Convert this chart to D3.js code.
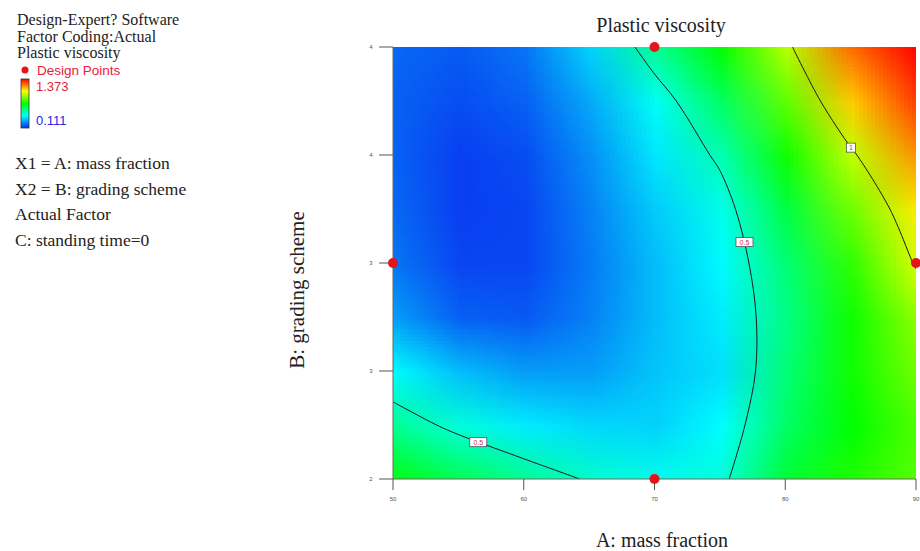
<!DOCTYPE html>
<html><head><meta charset="utf-8">
<script src="https://cdn.jsdelivr.net/npm/d3@7"></script>
<style>body{margin:0;background:#fff}svg{display:block}</style>
</head><body><svg id="chart" width="920" height="551"></svg>
<script>
// ---- data ----
const massFraction = [50, 55, 60, 65, 70, 75, 80, 85, 90];          // A (columns)
const gradingScheme = [4, 3.75, 3.5, 3.25, 3, 2.75, 2.5, 2.25, 2];  // B (rows, top to bottom)
const viscosityRows = [
  [0.20, 0.18, 0.22, 0.36, 0.56, 0.74, 0.97, 1.24, 1.373],
  [0.19, 0.16, 0.19, 0.30, 0.44, 0.62, 0.86, 1.12, 1.30],
  [0.19, 0.14, 0.16, 0.26, 0.39, 0.52, 0.76, 0.98, 1.19],
  [0.20, 0.14, 0.15, 0.24, 0.35, 0.45, 0.66, 0.88, 1.08],
  [0.22, 0.15, 0.15, 0.23, 0.33, 0.42, 0.60, 0.80, 1.01],
  [0.28, 0.19, 0.18, 0.24, 0.33, 0.40, 0.58, 0.76, 0.92],
  [0.42, 0.33, 0.28, 0.28, 0.34, 0.38, 0.60, 0.76, 0.88],
  [0.56, 0.47, 0.40, 0.37, 0.36, 0.425, 0.62, 0.74, 0.84],
  [0.72, 0.64, 0.56, 0.49, 0.45, 0.47, 0.68, 0.78, 0.85]
];
const xTickValues = [50, 60, 70, 80, 90];
const yTickValues = [4, 3.5, 3, 2.5, 2];
const designPointsA = [70, 50, 90, 70];
const designPointsB = [4, 3, 3, 2];
const contourLevels = [0.5, 1];
const contourLabelText = ["0.5", "0.5", "1"];
const contourLabelLevel = [0.5, 0.5, 1];
const contourLabelA = [56.5, 77.1, 85.6];
const contourLabelB = [2.17, 3.1, 3.56];
const responseMin = 0.111, responseMax = 1.373;
const legendHeader = ["Design-Expert? Software", "Factor Coding:Actual", "Plastic viscosity"];
const factorLines = ["X1 = A: mass fraction", "X2 = B: grading scheme", "Actual Factor", "C: standing time=0"];
const chartTitle = "Plastic viscosity";
const xTitle = "A: mass fraction";
const yTitle = "B: grading scheme";

// ---- layout ----
const svg = d3.select("#chart");
svg.append("rect").attr("width", 920).attr("height", 551).attr("fill", "#fff");
const plot = {left: 393, right: 916, top: 47, bottom: 479};
const x = d3.scaleLinear().domain([50, 90]).range([plot.left, plot.right]);
const y = d3.scaleLinear().domain([2, 4]).range([plot.bottom, plot.top]);
const nx = massFraction.length, ny = gradingScheme.length;
const colA = d3.scaleLinear().domain([0.5, nx - 0.5]).range([massFraction[0], massFraction[nx - 1]]);
const rowB = d3.scaleLinear().domain([0.5, ny - 0.5]).range([gradingScheme[0], gradingScheme[ny - 1]]);
const stops = d3.range(5).map(i => responseMin + i * (responseMax - responseMin) / 4);
const color = d3.scaleLinear().domain(stops)
  .range(["#0a2cf0", "#00ffff", "#00ff00", "#ffff00", "#ff0000"]).clamp(true);

const serif = "'Liberation Serif','Times New Roman',serif";
const sans = "'Liberation Sans',Arial,sans-serif";

// clip
const defs = svg.append("defs");
defs.append("clipPath").attr("id", "plotClip").append("rect")
  .attr("x", plot.left).attr("y", plot.top)
  .attr("width", plot.right - plot.left).attr("height", plot.bottom - plot.top);

// ---- colour field: small image of the grid, smoothly scaled by the browser ----
const cnv = document.createElement("canvas");
cnv.width = nx; cnv.height = ny;
const ctx = cnv.getContext("2d");
viscosityRows.forEach((row, r) => row.forEach((v, c) => {
  ctx.fillStyle = color(v); ctx.fillRect(c, r, 1, 1);
}));
const x0 = x(colA(0)), x1 = x(colA(nx)), y0 = y(rowB(0)), y1 = y(rowB(ny));
svg.append("g").attr("clip-path", "url(#plotClip)")
  .append("image")
  .attr("href", cnv.toDataURL())
  .attr("x", x0).attr("y", y0)
  .attr("width", x1 - x0).attr("height", y1 - y0)
  .attr("preserveAspectRatio", "none")
  .style("image-rendering", "auto");

// ---- contour lines ----
const contours = d3.contours().size([nx, ny]).thresholds(contourLevels)(viscosityRows.flat());
const lineGen = d3.line().x(p => x(colA(p[0]))).y(p => y(rowB(p[1]))).curve(d3.curveCatmullRom.alpha(0.5));
const contourG = svg.append("g").attr("clip-path", "url(#plotClip)");
const isBoundary = p => p[0] === 0 || p[0] === nx || p[1] === 0 || p[1] === ny;
contours.forEach(ct => {
  ct.coordinates.forEach(poly => poly.forEach(ring => {
    let pts = ring.slice(0, ring.length - 1);
    const bi = pts.findIndex(isBoundary);
    let runs = [];
    if (bi < 0) {
      runs.push(pts.concat([pts[0]]));
    } else {
      pts = pts.slice(bi).concat(pts.slice(0, bi));
      let cur = [];
      pts.forEach(p => {
        if (isBoundary(p)) { if (cur.length > 1) runs.push(cur); cur = []; }
        else cur.push(p);
      });
      if (cur.length > 1) runs.push(cur);
    }
    runs.forEach(run => {
      contourG.append("path").attr("class", "lvl" + String(ct.value).replace(".", "_"))
        .attr("d", lineGen(run))
        .attr("fill", "none").attr("stroke", "#1a1a1a").attr("stroke-width", 1);
    });
  }));
});

// ---- axes ----
const axG = svg.append("g");
axG.append("line").attr("x1", plot.left).attr("x2", plot.left).attr("y1", plot.top).attr("y2", plot.bottom)
  .attr("stroke", "#6b6b5a").attr("stroke-width", 1);
axG.append("line").attr("x1", plot.left).attr("x2", plot.right).attr("y1", plot.bottom).attr("y2", plot.bottom)
  .attr("stroke", "#6b6b5a").attr("stroke-width", 1);
const fmt = d3.format(".0f");
xTickValues.forEach(v => {
  axG.append("line").attr("x1", x(v)).attr("x2", x(v)).attr("y1", plot.bottom).attr("y2", plot.bottom + 11)
    .attr("stroke", "#555").attr("stroke-width", 1);
  axG.append("text").attr("x", x(v)).attr("y", plot.bottom + 22).attr("text-anchor", "middle")
    .attr("font-family", sans).attr("font-size", 6).attr("fill", "#555").text(fmt(v));
});
yTickValues.forEach(v => {
  axG.append("line").attr("x1", plot.left - 14).attr("x2", plot.left).attr("y1", y(v)).attr("y2", y(v))
    .attr("stroke", "#555").attr("stroke-width", 1);
  axG.append("text").attr("x", plot.left - 22).attr("y", y(v) + 2).attr("text-anchor", "middle")
    .attr("font-family", sans).attr("font-size", 6).attr("fill", "#555").text(fmt(v));
});

// ---- contour labels ----
contourLabelText.forEach((t, i) => {
  const tx = x(contourLabelA[i]), ty = y(contourLabelB[i]);
  let best = [tx, ty], bd = Infinity;
  contourG.selectAll(".lvl" + String(contourLabelLevel[i]).replace(".", "_")).each(function () {
    const L = this.getTotalLength();
    for (let s = 0; s <= L; s += 0.5) {
      const p = this.getPointAtLength(s);
      const d = (p.x - tx) ** 2 + (p.y - ty) ** 2;
      if (d < bd) { bd = d; best = [p.x, p.y]; }
    }
  });
  const w = t.length > 1 ? 17 : 9;
  const g = svg.append("g");
  g.append("rect").attr("x", best[0] - w / 2).attr("y", best[1] - 4.5).attr("width", w).attr("height", 9)
    .attr("fill", "#fff").attr("stroke", "#555").attr("stroke-width", 0.8);
  g.append("text").attr("x", best[0]).attr("y", best[1] + 2.5).attr("text-anchor", "middle")
    .attr("font-family", sans).attr("font-size", 7).attr("fill", "#c83060").text(t);
});

// ---- design points ----
designPointsA.forEach((a, i) => {
  svg.append("circle").attr("cx", x(a)).attr("cy", y(designPointsB[i])).attr("r", 5)
    .attr("fill", "#e4141c");
});

// ---- titles ----
svg.append("text").attr("x", 661).attr("y", 32).attr("text-anchor", "middle")
  .attr("font-family", serif).attr("font-size", 20).attr("fill", "#222").text(chartTitle);
svg.append("text").attr("x", 662).attr("y", 547).attr("text-anchor", "middle")
  .attr("font-family", serif).attr("font-size", 20).attr("fill", "#222").text(xTitle);
svg.append("text").attr("transform", `translate(304,290) rotate(-90)`)
  .attr("text-anchor", "middle")
  .attr("font-family", serif).attr("font-size", 21).attr("fill", "#222").text(yTitle);

// ---- left legend ----
const lg = svg.append("g");
legendHeader.forEach((t, i) => {
  lg.append("text").attr("x", 17).attr("y", 25 + i * 16.5).attr("font-family", serif).attr("font-size", 16)
    .attr("fill", "#222").text(t);
});
lg.append("circle").attr("cx", 25).attr("cy", 70).attr("r", 3.5).attr("fill", "#e4141c");
lg.append("text").attr("x", 37).attr("y", 75).attr("font-family", sans).attr("font-size", 13.5)
  .attr("fill", "#e8203a").text("Design Points");
const grad = defs.append("linearGradient").attr("id", "cbar").attr("x1", 0).attr("x2", 0).attr("y1", 1).attr("y2", 0);
stops.forEach((s, i) => grad.append("stop").attr("offset", i / 4).attr("stop-color", color(s)));
lg.append("rect").attr("x", 21).attr("y", 79).attr("width", 8).attr("height", 49)
  .attr("fill", "url(#cbar)").attr("stroke", "#333").attr("stroke-width", 0.8);
lg.append("text").attr("x", 36).attr("y", 91).attr("font-family", sans).attr("font-size", 13)
  .attr("fill", "#e8203a").text(d3.format(".3f")(responseMax));
lg.append("text").attr("x", 36).attr("y", 125).attr("font-family", sans).attr("font-size", 13)
  .attr("fill", "#2828e0").text(d3.format(".3f")(responseMin));
factorLines.forEach((t, i) => {
  lg.append("text").attr("x", 15).attr("y", 169 + i * 25.5).attr("font-family", serif).attr("font-size", 17.5)
    .attr("fill", "#222").text(t);
});
</script></body></html>
